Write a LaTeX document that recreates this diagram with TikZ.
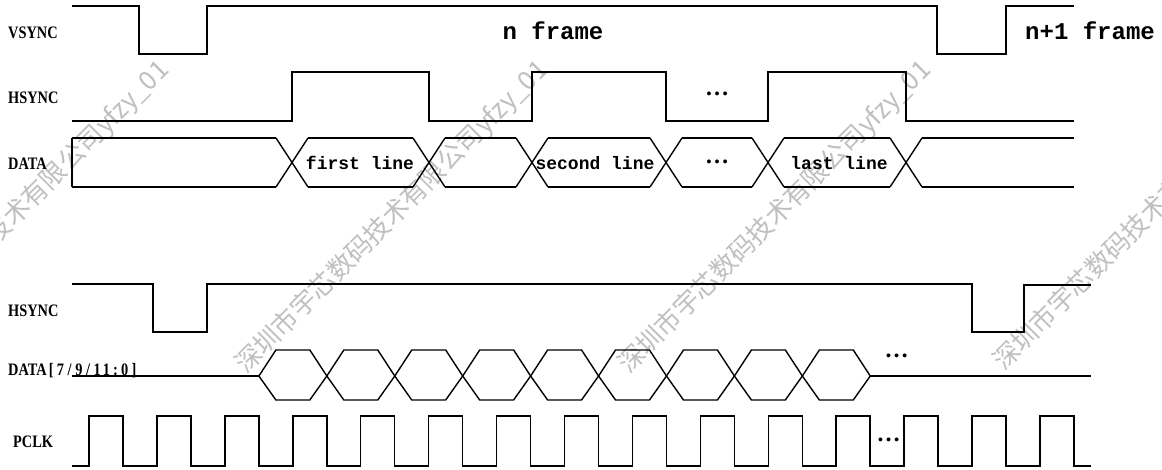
\documentclass[tikz,border=0pt]{standalone}
\usepackage{fontspec}
\newfontfamily\lblfont{Liberation Serif}
\newfontfamily\txtfont{Liberation Mono}
\newfontfamily\cjkfont{Noto Sans CJK SC}
\definecolor{wmgray}{RGB}{192,192,192}
\newcommand{\lab}[1]{\scalebox{0.82}[1]{#1}}
\newcommand{\mc}[1]{\makebox[11.2pt]{#1}}
\begin{document}
\begin{tikzpicture}[x=1pt,y=-1pt,
  sig/.style={line width=1.8pt, line join=miter},
  bus/.style={line width=1.4pt, line join=miter},
  clk/.style={line width=1.5pt, line join=miter},
  lbl/.style={font=\lblfont\bfseries\fontsize{17.5}{18}\selectfont, inner sep=0pt, anchor=base west},
  txt/.style={font=\txtfont\bfseries\fontsize{18}{18}\selectfont, inner sep=0pt, anchor=base},
  big/.style={font=\txtfont\bfseries\fontsize{24}{24}\selectfont, inner sep=0pt, anchor=base},
  ell/.style={font=\lblfont\bfseries\fontsize{24}{24}\selectfont, inner sep=0pt, anchor=base},
  wm/.style={font=\cjkfont\fontsize{26}{26}\selectfont, text=wmgray, inner sep=0pt, anchor=base west, rotate=45}
]
\useasboundingbox (0,0) rectangle (1162,470);
\fill[white] (0,0) rectangle (1162,470);

% watermarks
\begin{scope}
\clip (0,0) rectangle (1162,470);
\node[wm] (wm1) at (-133,375) {深圳市宇芯数码技术有限公司yfzy\_01};
\node[wm] (wm2) at (246,375) {深圳市宇芯数码技术有限公司yfzy\_01};
\node[wm] (wm3) at (629,375) {深圳市宇芯数码技术有限公司yfzy\_01};
\node[wm] (wm4) at (1004,372) {深圳市宇芯数码技术有限公司yfzy\_01};
\end{scope}

% labels
\node[lbl] (lvs) at (8,38.5) {\lab{VSYNC}};
\node[lbl] (lhs1) at (8,104) {\lab{HSYNC}};
\node[lbl] (ldat1) at (8,170) {\lab{DATA}};
\node[lbl] (lhs2) at (8,317) {\lab{HSYNC}};
\node[lbl] (ldat2) at (8,375) {\lab{DATA\mc{[}\mc{7}\mc{/}\mc{9}\mc{/}\mc{1}\mc{1}\mc{:}\mc{0}\mc{]}}};
\node[lbl] (lclk) at (13,447) {\lab{PCLK}};

% VSYNC
\draw[sig] (72,6) -- (139,6) -- (139,54) -- (207,54) -- (207,6) -- (937,6) -- (937,54) -- (1006,54) -- (1006,6) -- (1074,6);
\node[big] (nf) at (553,40) {n frame};
\node[big] (nf1) at (1090,40) {n+1 frame};

% HSYNC (frame)
\draw[sig] (72,121) -- (292,121) -- (292,72) -- (429,72) -- (429,121) -- (532,121) -- (532,72) -- (666,72) -- (666,121) -- (768,121) -- (768,72) -- (906,72) -- (906,121) -- (1074,121);
\node[ell] (hd1) at (717,95.7) {…};

% DATA (frame)
\draw[bus] (72,138) -- (72,187);
\foreach \a/\b in {72/276, 308/413, 445/516, 548/650, 682/752, 784/890, 922/1074} {
  \draw[bus] (\a,138) -- (\b,138);
  \draw[bus] (\a,187) -- (\b,187);
}
\foreach \c in {292,429,532,666,768,906} {
  \draw[bus] (\c-16,138) -- (\c+16,187);
  \draw[bus] (\c-16,187) -- (\c+16,138);
}
\node[txt] (t1) at (360,170) {first line};
\node[txt] (t2) at (595,170) {second line};
\node[ell] (t3) at (717,163.7) {…};
\node[txt] (t4) at (839,170) {last line};

% HSYNC (line)
\draw[sig] (72,284) -- (153,284) -- (153,332) -- (207,332) -- (207,284) -- (972,284) -- (972,332) -- (1024,332) -- (1024,285) -- (1091,285);

% DATA bus
\draw[bus] (72,376) -- (258.9,376);
\foreach \i in {0,...,8} {
  \pgfmathsetmacro\ca{258.9+67.93*\i}
  \pgfmathsetmacro\cb{\ca+67.93}
  \draw[bus] (\ca,376) -- (\ca+17,350) -- (\cb-17,350) -- (\cb,376) -- (\cb-17,400) -- (\ca+17,400) -- cycle;
}
\draw[bus] (870.3,376) -- (1091,376);
\node[ell] (bd) at (896.5,357.7) {…};

% PCLK
\draw[clk] (72,466) \foreach \k in {0,...,14} { -- ({89+67.93*\k},466) -- ({89+67.93*\k},416) -- ({123+67.93*\k},416) -- ({123+67.93*\k},466) } -- (1091,466);
\node[ell] (cd) at (888.5,441.7) {…};
\end{tikzpicture}
\end{document}
